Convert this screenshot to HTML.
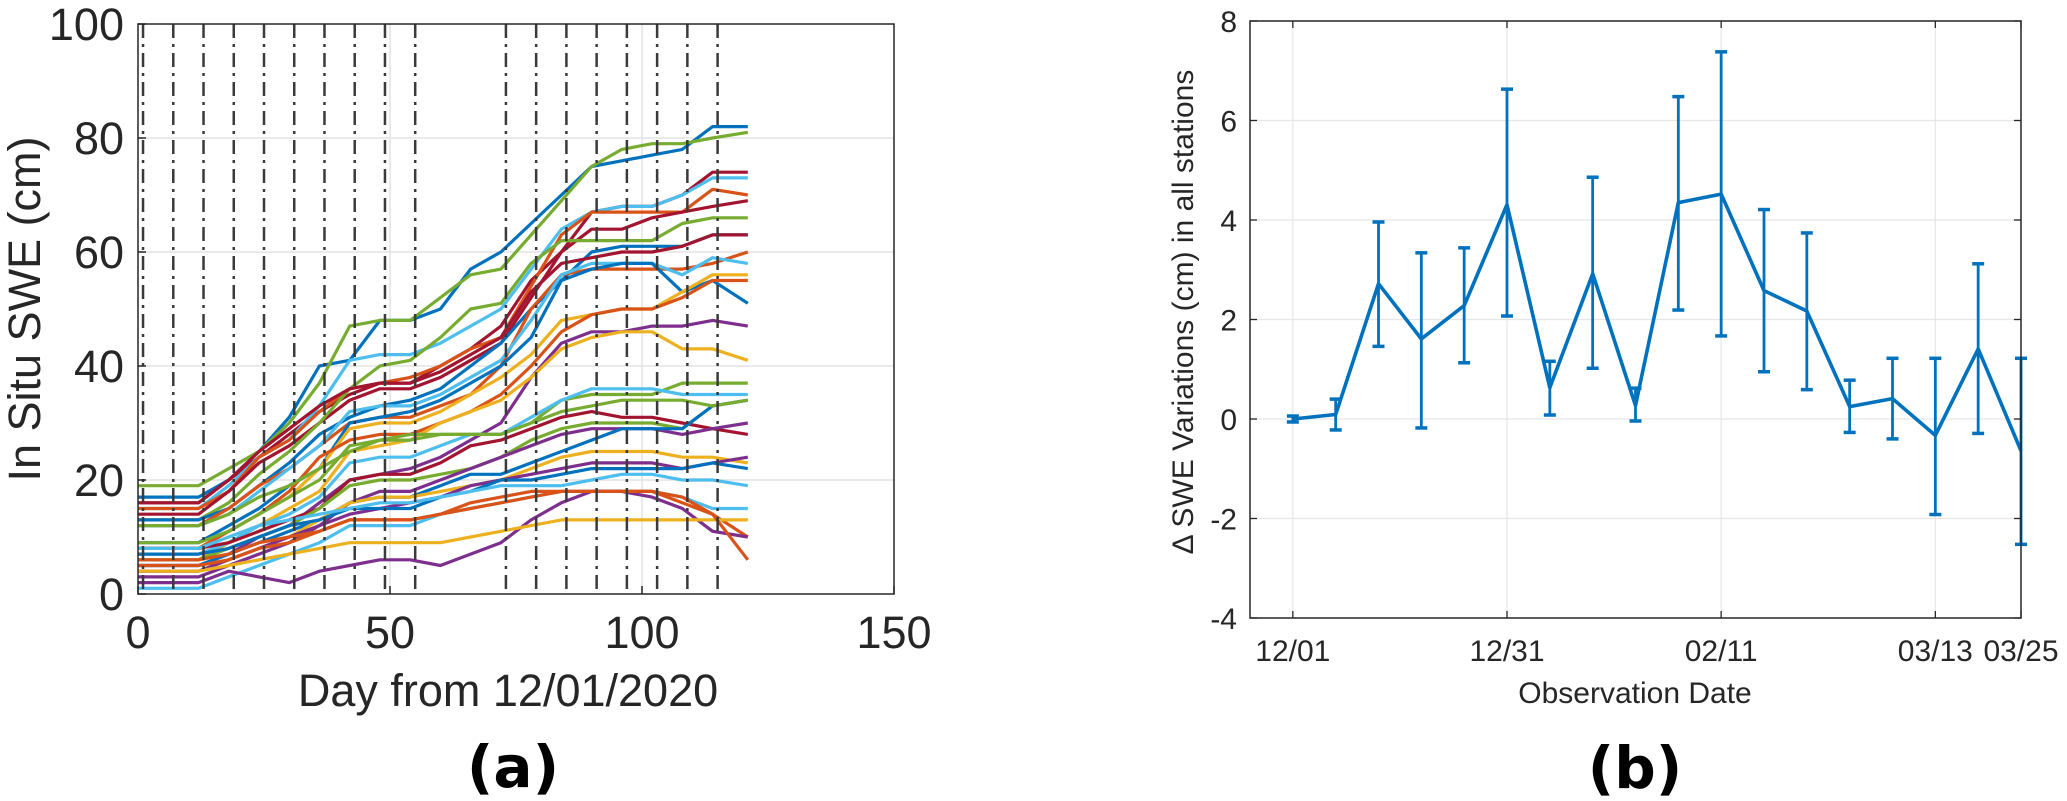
<!DOCTYPE html>
<html><head><meta charset="utf-8"><style>
html,body{margin:0;padding:0;background:#fff;}
svg{display:block;font-family:"Liberation Sans",Arial,sans-serif;}
</style></head><body>
<svg id="fig" width="2067" height="801" viewBox="0 0 2067 801" xmlns="http://www.w3.org/2000/svg">
<g id="chartA"></g>
<g id="chartB"></g>
</svg>
<script>
// ---------- Chart (a) data ----------
const aDays = [0,12,18,24,30,36,42,48,54,60,66,72,78,84,90,96,102,108,114,121];
const aObsDays = [1,7,13,19,25,31,37,43,49,55,73,79,85,91,97,103,109,115];
const aXTicks = [0,50,100,150];
const aYTicks = [0,20,40,60,80,100];
const aColors = ["#0072BD","#77AC30","#A2142F","#4DBEEE","#D95319","#A2142F","#77AC30","#0072BD","#A2142F","#D95319","#4DBEEE","#0072BD","#EDB120","#D95319","#7E2F8E","#EDB120","#77AC30","#4DBEEE","#A2142F","#77AC30","#7E2F8E","#0072BD","#EDB120","#7E2F8E","#0072BD","#4DBEEE","#D95319","#7E2F8E","#EDB120","#D95319","#4DBEEE","#77AC30"];
const aSeries = [
[17,17,20,25,31,40,41,48,48,50,57,60,65,70,75,76,77,78,82,82],
[19,19,22,25,30,37,47,48,48,52,56,57,63,69,75,78,79,79,80,81],
[16,16,20,24,28,32,35,37,37,40,43,47,55,60,67,68,68,70,74,74],
[15,15,19,24,27,33,41,42,42,44,47,50,57,64,67,68,68,70,73,73],
[15,15,18,24,27,32,36,37,38,40,43,45,54,63,67,67,67,67,71,70],
[14,14,18,23,26,30,34,36,36,38,41,44,52,60,64,64,66,67,68,69],
[13,13,16,21,25,30,36,40,41,45,50,51,58,62,62,62,62,65,66,66],
[13,13,15,19,23,28,31,33,34,36,40,44,50,55,60,61,61,61,63,63],
[16,16,20,25,29,33,36,37,37,39,42,45,53,58,59,60,60,61,63,63],
[12,12,15,19,22,26,30,31,31,33,35,40,50,56,57,57,57,57,58,60],
[12,12,14,18,22,26,32,33,33,35,38,41,48,56,58,58,58,56,59,58],
[9,9,12,15,19,22,30,31,32,34,37,40,45,55,57,58,58,53,55,51],
[8,8,11,14,17,22,29,30,30,32,35,38,42,48,49,50,50,53,56,56],
[8,8,11,14,18,24,27,28,28,30,32,35,40,46,49,50,50,52,55,55],
[5,5,7,10,12,16,20,21,22,24,27,30,38,44,46,46,47,47,48,47],
[6,6,9,12,15,18,25,26,27,30,32,34,38,43,45,46,46,43,43,41],
[9,9,11,14,17,20,26,27,28,28,28,28,30,34,35,35,35,37,37,37],
[7,7,9,12,14,17,23,24,24,26,28,28,31,34,36,36,36,35,35,35],
[8,8,9,11,13,15,20,21,21,23,26,27,29,31,32,31,31,30,29,28],
[6,6,8,10,12,15,19,20,20,21,22,24,27,29,30,30,30,29,33,34],
[3,3,5,7,9,12,16,18,18,20,22,24,26,28,29,29,29,28,29,30],
[5,5,7,9,11,13,16,17,17,19,21,21,23,25,27,29,29,29,33,34],
[4,4,6,8,10,13,16,17,17,18,19,20,22,24,25,25,25,24,24,23],
[4,4,6,8,10,12,14,15,16,17,19,20,21,22,23,23,23,22,23,24],
[7,7,8,10,12,13,15,15,15,17,18,20,20,21,22,22,22,22,23,22],
[1,1,3,5,7,9,12,12,12,14,15,16,17,18,18,18,18,17,15,15],
[5,5,6,8,9,11,13,13,13,14,16,17,18,18,18,18,18,16,14,10],
[2,2,4,3,2,4,5,6,6,5,7,9,13,16,18,18,17,15,11,10],
[4,4,5,6,7,8,9,9,9,9,10,11,12,13,13,13,13,13,13,13],
[6,6,7,9,10,11,13,13,13,14,15,16,17,18,18,18,18,17,14,6],
[8,8,10,12,13,14,15,16,16,17,18,19,19,19,20,21,21,20,20,19],
[12,12,14,17,19,22,25,27,27,28,28,28,30,32,33,34,34,34,33,34]
];
// ---------- Chart (b) data ----------
const bIndex = [1,2,3,4,5,6,7,8,9,10,11,12,13,14,15,16,17,18];
const bMean = [0.0,0.09,2.72,1.61,2.28,4.31,0.63,2.92,0.27,4.35,4.52,2.58,2.17,0.25,0.41,-0.33,1.41,-0.64];
const bUpper = [0.06,0.40,3.96,3.34,3.44,6.63,1.16,4.86,0.62,6.48,7.38,4.21,3.74,0.78,1.22,1.22,3.12,1.22];
const bLower = [-0.06,-0.22,1.46,-0.18,1.13,2.07,0.08,1.02,-0.04,2.19,1.67,0.95,0.59,-0.27,-0.40,-1.92,-0.29,-2.52];
const bTickIdx = [1,6,11,16,18];
const bTickLabels = ["12/01","12/31","02/11","03/13","03/25"];
const bYTicks = [-4,-2,0,2,4,6,8];

const NS="http://www.w3.org/2000/svg";
function mk(parent,tag,attrs,text){const e=document.createElementNS(NS,tag);for(const k in attrs)e.setAttribute(k,attrs[k]);if(text!==undefined)e.textContent=text;parent.appendChild(e);return e;}

// ----- Chart A -----
(function(){
const g=document.getElementById('chartA');
const L=138,R=894,T=24,B=594;
const xs=d=>L+(d-0)/150*(R-L);
const ys=v=>B-(v-0)/100*(B-T);
aYTicks.forEach(v=>{if(v>0&&v<100){const l=mk(g,'line',{x1:L,x2:R,y1:ys(v),y2:ys(v),stroke:'#e3e3e3','stroke-width':1.5});

}});
aXTicks.forEach(v=>{if(v>0&&v<150){const l=mk(g,'line',{x1:xs(v),x2:xs(v),y1:T,y2:B,stroke:'#e3e3e3','stroke-width':1.5});

}});
aSeries.forEach((s,i)=>{const pts=s.map((v,j)=>xs(aDays[j]).toFixed(1)+','+ys(v).toFixed(1)).join(' ');
const p=mk(g,'polyline',{points:pts,fill:'none',stroke:aColors[i%aColors.length],'stroke-width':3.2,'stroke-linejoin':'round'});

});
aObsDays.forEach(d=>{const l=mk(g,'line',{x1:xs(d),x2:xs(d),y1:T,y2:B,stroke:'#3a3a3a','stroke-width':2.5,'stroke-dasharray':'14,6,3,6'});

});
const bx=mk(g,'rect',{x:L,y:T,width:R-L,height:B-T,fill:'none',stroke:'#262626','stroke-width':1.5});


aYTicks.forEach(v=>{mk(g,'line',{x1:L,x2:L+8,y1:ys(v),y2:ys(v),stroke:'#262626','stroke-width':1.5});
const t=mk(g,'text',{x:L-14,y:ys(v)+16,'text-anchor':'end','font-size':45,fill:'#262626'},String(v));

});
aXTicks.forEach(v=>{mk(g,'line',{x1:xs(v),x2:xs(v),y1:B,y2:B-8,stroke:'#262626','stroke-width':1.5});
const t=mk(g,'text',{x:xs(v),y:648,'text-anchor':'middle','font-size':45,fill:'#262626'},String(v));

});
const xl=mk(g,'text',{x:508,y:706,'text-anchor':'middle','font-size':45,fill:'#262626'},'Day from 12/01/2020');


const yl=mk(g,'text',{x:0,y:0,transform:'translate(40,309) rotate(-90)','text-anchor':'middle','font-size':45,fill:'#262626'},'In Situ SWE (cm)');


const pl=mk(g,'text',{x:513,y:787,'text-anchor':'middle','font-size':58,'font-weight':'bold','font-family':'"DejaVu Sans",sans-serif',fill:'#000'},'(a)');


})();

// ----- Chart B -----
(function(){
const g=document.getElementById('chartB');
const L=1250,R=2021,T=21,B=618;
const xs=i=>L+(i-0)/18*(R-L);
const ys=v=>B-(v+4)/12*(B-T);
bYTicks.forEach(v=>{if(v>-4&&v<8){const l=mk(g,'line',{x1:L,x2:R,y1:ys(v),y2:ys(v),stroke:'#e6e6e6','stroke-width':1.2});

}});
bTickIdx.forEach(i=>{if(i<18){const l=mk(g,'line',{x1:xs(i),x2:xs(i),y1:T,y2:B,stroke:'#e6e6e6','stroke-width':1.2});

}});
bIndex.forEach((idx,k)=>{const x=xs(idx);
const eg=mk(g,'g',{stroke:'#0072BD','stroke-width':2.8});


mk(eg,'line',{x1:x,x2:x,y1:ys(bUpper[k]),y2:ys(bLower[k])});
mk(eg,'line',{x1:x-6,x2:x+6,y1:ys(bUpper[k]),y2:ys(bUpper[k]),'stroke-width':3.5});
mk(eg,'line',{x1:x-6,x2:x+6,y1:ys(bLower[k]),y2:ys(bLower[k]),'stroke-width':3.5});});
const pts=bIndex.map((idx,k)=>xs(idx).toFixed(1)+','+ys(bMean[k]).toFixed(1)).join(' ');
const ln=mk(g,'polyline',{points:pts,fill:'none',stroke:'#0072BD','stroke-width':3.6,'stroke-linejoin':'round'});


const bx=mk(g,'rect',{x:L,y:T,width:R-L,height:B-T,fill:'none',stroke:'#262626','stroke-width':1.5});


bYTicks.forEach(v=>{mk(g,'line',{x1:L,x2:L+7,y1:ys(v),y2:ys(v),stroke:'#262626','stroke-width':1.3});
mk(g,'line',{x1:R,x2:R-7,y1:ys(v),y2:ys(v),stroke:'#262626','stroke-width':1.3});
const t=mk(g,'text',{x:1237,y:ys(v)+11,'text-anchor':'end','font-size':30,fill:'#262626'},String(v));

});
bTickIdx.forEach((i,k)=>{mk(g,'line',{x1:xs(i),x2:xs(i),y1:B,y2:B-7,stroke:'#262626','stroke-width':1.3});
mk(g,'line',{x1:xs(i),x2:xs(i),y1:T,y2:T+7,stroke:'#262626','stroke-width':1.3});
const t=mk(g,'text',{x:xs(i),y:661,'text-anchor':'middle','font-size':30,fill:'#262626'},bTickLabels[k]);

});
const xl=mk(g,'text',{x:1635,y:703,'text-anchor':'middle','font-size':30,fill:'#262626'},'Observation Date');


const yl=mk(g,'text',{x:0,y:0,transform:'translate(1193,312) rotate(-90)','text-anchor':'middle','font-size':30,fill:'#262626'},'\u0394 SWE Variations (cm) in all stations');


const pl=mk(g,'text',{x:1635,y:788,'text-anchor':'middle','font-size':58,'font-weight':'bold','font-family':'"DejaVu Sans",sans-serif',fill:'#000'},'(b)');


})();
</script>
</body></html>
